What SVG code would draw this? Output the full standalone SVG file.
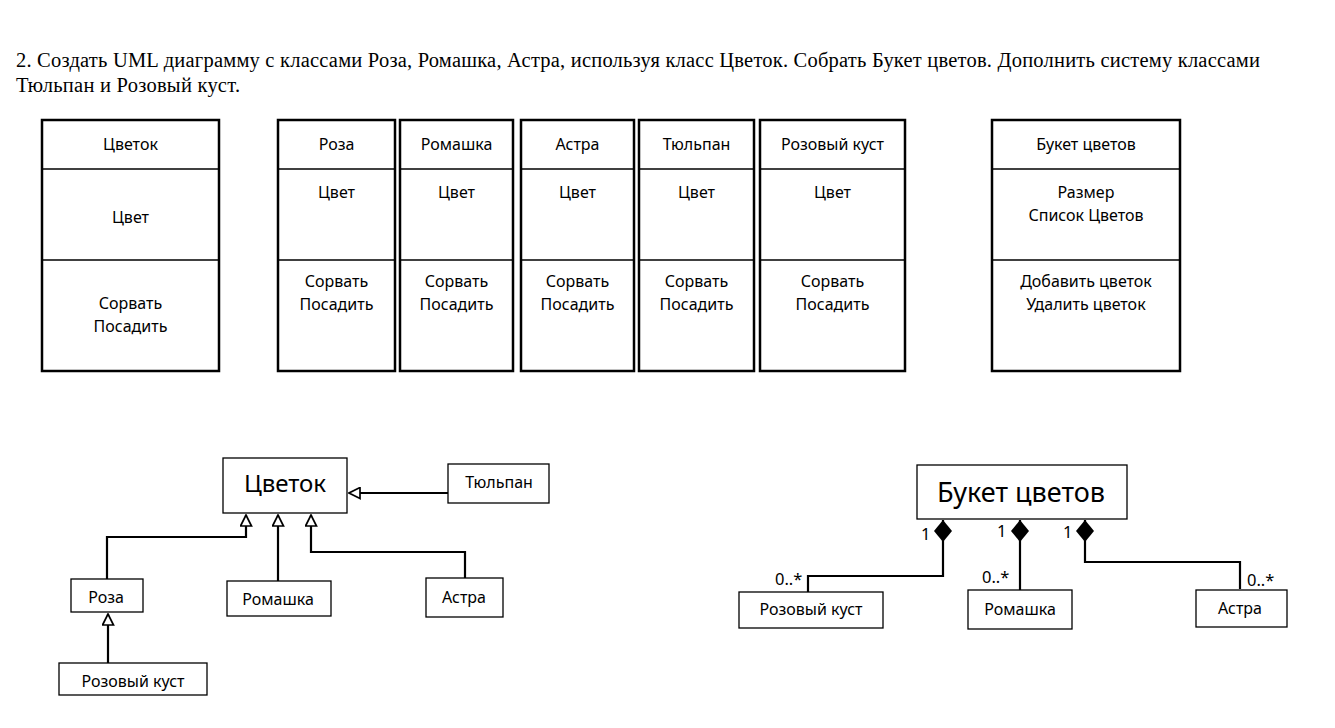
<svg xmlns="http://www.w3.org/2000/svg" width="1335" height="728" viewBox="0 0 1335 728">
<defs>
<style>
.bg{fill:#fff}
.title{font-family:"Liberation Serif","Times New Roman",serif;font-size:20.5px;fill:#000}
.t{font-family:"Noto Sans","Open Sans",sans-serif;font-size:16px;fill:#000;text-anchor:middle}
.big{font-size:24px}
.big2{font-size:27px}
.m{font-family:"Noto Sans","Open Sans",sans-serif;font-size:16.5px;fill:#000}
.frame{fill:#fff;stroke:#000;stroke-width:2.5}
.div{stroke:#000;stroke-width:1.3}
.box{fill:#fff;stroke:#000;stroke-width:1.3}
.conn{fill:none;stroke:#000;stroke-width:2.2}
</style>
<marker id="tri" viewBox="0 0 13 13" refX="12" refY="6.5" markerWidth="13" markerHeight="13" markerUnits="userSpaceOnUse" orient="auto">
<path d="M1,1 L12,6.5 L1,12 Z" fill="#fff" stroke="#000" stroke-width="1.7"/>
</marker>
<marker id="dia" viewBox="0 0 22 18" refX="0" refY="9" markerWidth="22" markerHeight="18" markerUnits="userSpaceOnUse" orient="auto">
<path d="M0,9 L11,0 L22,9 L11,18 Z" fill="#000"/>
</marker>
</defs>
<rect class="bg" x="0" y="0" width="1335" height="728"/>

<g id="title">
<text class="title" x="16" y="67" textLength="1244" lengthAdjust="spacing">2. Создать UML диаграмму с классами Роза, Ромашка, Астра, используя класс Цветок. Собрать Букет цветов. Дополнить систему классами</text>
<text class="title" x="16" y="92" textLength="224" lengthAdjust="spacing">Тюльпан и Розовый куст.</text>
</g>

<g id="table-cvetok">
<rect class="frame" x="42" y="120" width="177" height="251"/>
<line class="div" x1="42" y1="169" x2="219" y2="169"/>
<line class="div" x1="42" y1="260" x2="219" y2="260"/>
<text class="t" x="130.5" y="150">Цветок</text>
<text class="t" x="130.5" y="223">Цвет</text>
<text class="t" x="130.5" y="309">Сорвать</text>
<text class="t" x="130.5" y="332">Посадить</text>
</g>

<g id="table-roza">
<rect class="frame" x="278" y="120" width="117" height="251"/>
<line class="div" x1="278" y1="169" x2="395" y2="169"/>
<line class="div" x1="278" y1="260" x2="395" y2="260"/>
<text class="t" x="336.5" y="150">Роза</text>
<text class="t" x="336.5" y="198">Цвет</text>
<text class="t" x="336.5" y="287">Сорвать</text>
<text class="t" x="336.5" y="310">Посадить</text>
</g>

<g id="table-romashka">
<rect class="frame" x="400" y="120" width="113" height="251"/>
<line class="div" x1="400" y1="169" x2="513" y2="169"/>
<line class="div" x1="400" y1="260" x2="513" y2="260"/>
<text class="t" x="456.5" y="150">Ромашка</text>
<text class="t" x="456.5" y="198">Цвет</text>
<text class="t" x="456.5" y="287">Сорвать</text>
<text class="t" x="456.5" y="310">Посадить</text>
</g>

<g id="table-astra">
<rect class="frame" x="521" y="120" width="113" height="251"/>
<line class="div" x1="521" y1="169" x2="634" y2="169"/>
<line class="div" x1="521" y1="260" x2="634" y2="260"/>
<text class="t" x="577.5" y="150">Астра</text>
<text class="t" x="577.5" y="198">Цвет</text>
<text class="t" x="577.5" y="287">Сорвать</text>
<text class="t" x="577.5" y="310">Посадить</text>
</g>

<g id="table-tyulpan">
<rect class="frame" x="639" y="120" width="115" height="251"/>
<line class="div" x1="639" y1="169" x2="754" y2="169"/>
<line class="div" x1="639" y1="260" x2="754" y2="260"/>
<text class="t" x="696.5" y="150">Тюльпан</text>
<text class="t" x="696.5" y="198">Цвет</text>
<text class="t" x="696.5" y="287">Сорвать</text>
<text class="t" x="696.5" y="310">Посадить</text>
</g>

<g id="table-rozovy-kust">
<rect class="frame" x="760" y="120" width="145" height="251"/>
<line class="div" x1="760" y1="169" x2="905" y2="169"/>
<line class="div" x1="760" y1="260" x2="905" y2="260"/>
<text class="t" x="832.5" y="150">Розовый куст</text>
<text class="t" x="832.5" y="198">Цвет</text>
<text class="t" x="832.5" y="287">Сорвать</text>
<text class="t" x="832.5" y="310">Посадить</text>
</g>

<g id="table-buket">
<rect class="frame" x="992" y="120" width="188" height="251"/>
<line class="div" x1="992" y1="169" x2="1180" y2="169"/>
<line class="div" x1="992" y1="260" x2="1180" y2="260"/>
<text class="t" x="1086" y="150">Букет цветов</text>
<text class="t" x="1086" y="198">Размер</text>
<text class="t" x="1086" y="221">Список Цветов</text>
<text class="t" x="1086" y="287">Добавить цветок</text>
<text class="t" x="1086" y="310">Удалить цветок</text>
</g>

<g id="connectors">
<path class="conn" d="M107,579 V537 H246 V515" marker-end="url(#tri)"/>
<path class="conn" d="M278,581 V515" marker-end="url(#tri)"/>
<path class="conn" d="M465,578 V552 H311 V515" marker-end="url(#tri)"/>
<path class="conn" d="M448,493 H349" marker-end="url(#tri)"/>
<path class="conn" d="M108,663 V614" marker-end="url(#tri)"/>
<path class="conn" d="M943,520 V576 H808 V592" marker-start="url(#dia)"/>
<path class="conn" d="M1020,520 V590" marker-start="url(#dia)"/>
<path class="conn" d="M1085,520 V562 H1240 V589" marker-start="url(#dia)"/>
<text class="m" x="921" y="540">1</text>
<text class="m" x="997" y="537">1</text>
<text class="m" x="1063" y="538">1</text>
<text class="m" x="775" y="585">0..*</text>
<text class="m" x="982" y="583">0..*</text>
<text class="m" x="1247" y="586">0..*</text>
</g>

<g id="node-cvetok">
<rect class="box" x="223" y="458" width="124" height="55"/>
<text class="t big" x="285" y="492">Цветок</text>
</g>
<g id="node-tyulpan">
<rect class="box" x="448" y="464" width="101" height="39"/>
<text class="t" x="499" y="488">Тюльпан</text>
</g>
<g id="node-roza">
<rect class="box" x="71" y="579" width="72" height="33"/>
<text class="t" x="106" y="603">Роза</text>
</g>
<g id="node-romashka">
<rect class="box" x="227" y="581" width="104" height="35"/>
<text class="t" x="278" y="605">Ромашка</text>
</g>
<g id="node-astra">
<rect class="box" x="426" y="578" width="77" height="39"/>
<text class="t" x="464" y="603">Астра</text>
</g>
<g id="node-rozovy-kust">
<rect class="box" x="59" y="663" width="148" height="32"/>
<text class="t" x="133" y="687">Розовый куст</text>
</g>

<g id="node-buket">
<rect class="box" x="917" y="465" width="210" height="54"/>
<text class="t big2" x="1021" y="502">Букет цветов</text>
</g>
<g id="node-buket-rozovy-kust">
<rect class="box" x="739" y="592" width="144" height="36"/>
<text class="t" x="811" y="615">Розовый куст</text>
</g>
<g id="node-buket-romashka">
<rect class="box" x="968" y="590" width="104" height="39"/>
<text class="t" x="1020" y="615">Ромашка</text>
</g>
<g id="node-buket-astra">
<rect class="box" x="1196" y="590" width="91" height="37"/>
<text class="t" x="1240" y="614">Астра</text>
</g>
</svg>
